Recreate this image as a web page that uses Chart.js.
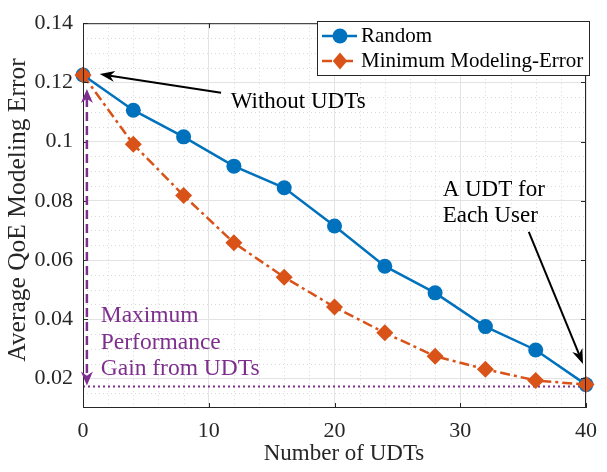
<!DOCTYPE html>
<html>
<head>
<title>QoE Modeling Error</title>
<script src="https://cdn.jsdelivr.net/npm/chart.js@4"></script>
<style>
  body { margin: 0; background: #fff; }
  canvas { display: block; }
</style>
</head>
<body>
<canvas id="qoeChart" width="607" height="472"></canvas>
<script>
// data
const numUDTs = [0, 4, 8, 12, 16, 20, 24, 28, 32, 36, 40];
const randomErr = [0.1225, 0.1106, 0.1016, 0.0917, 0.0844, 0.0715, 0.0579, 0.0489, 0.0375, 0.0296, 0.0179];
const minErr = [0.1225, 0.0991, 0.0818, 0.0658, 0.0542, 0.0441, 0.0354, 0.0275, 0.0231, 0.0193, 0.0179];
const gainLineX = [0, 40];
const gainLineY = [0.0173, 0.0173];
const xTicks = [0, 10, 20, 30, 40];
const yTicks = [0.02, 0.04, 0.06, 0.08, 0.1, 0.12, 0.14];

const BLUE = '#0072BD';
const ORANGE = '#D95319';
const PURPLE = '#7E2F8E';
const AXIS = '#262626';
const FONT = "'Liberation Serif', 'Times New Roman', serif";

function toPoints(xs, ys) {
    return xs.map((x, i) => ({ x: x, y: ys[i] }));
}

function arrowHead(ctx, x1, y1, x2, y2, len, half, color) {
    const a = Math.atan2(y2 - y1, x2 - x1);
    const ux = Math.cos(a), uy = Math.sin(a);
    const px = -uy, py = ux;
    ctx.fillStyle = color;
    ctx.beginPath();
    ctx.moveTo(x2, y2);
    ctx.lineTo(x2 - len * ux + half * px, y2 - len * uy + half * py);
    ctx.lineTo(x2 - 0.7 * len * ux, y2 - 0.7 * len * uy);
    ctx.lineTo(x2 - len * ux - half * px, y2 - len * uy - half * py);
    ctx.closePath();
    ctx.fill();
}

function arrow(ctx, x1, y1, x2, y2, color, width, dash, len, half) {
    const a = Math.atan2(y2 - y1, x2 - x1);
    ctx.save();
    ctx.strokeStyle = color;
    ctx.lineWidth = width;
    ctx.setLineDash(dash);
    ctx.beginPath();
    ctx.moveTo(x1, y1);
    ctx.lineTo(x2 - 0.7 * len * Math.cos(a), y2 - 0.7 * len * Math.sin(a));
    ctx.stroke();
    ctx.setLineDash([]);
    arrowHead(ctx, x1, y1, x2, y2, len, half, color);
    ctx.restore();
}

// minor dotted grid (MATLAB style)
const minorGrid = {
    id: 'minorGrid',
    beforeDatasetsDraw(chart) {
        const { ctx, chartArea: a, scales: { x, y } } = chart;
        ctx.save();
        ctx.strokeStyle = '#d9d9d9';
        ctx.lineWidth = 1;
        ctx.setLineDash([1, 3]);
        ctx.beginPath();
        for (let v = 2; v < 40; v += 2) {
            if (v % 10 === 0) continue;
            const px = Math.round(x.getPixelForValue(v)) + 0.5;
            ctx.moveTo(px, a.top); ctx.lineTo(px, a.bottom);
        }
        for (let k = 3; k < 28; k++) {
            if (k % 4 === 0) continue;
            const py = Math.round(y.getPixelForValue(k * 0.005)) + 0.5;
            ctx.moveTo(a.left, py); ctx.lineTo(a.right, py);
        }
        ctx.stroke();
        ctx.restore();
    }
};

// box, inward ticks, annotations, legend, axis titles
const decorations = {
    id: 'decorations',
    afterDraw(chart) {
        const { ctx, chartArea: a, scales: { x, y } } = chart;
        ctx.save();

        // axes box
        ctx.strokeStyle = AXIS;
        ctx.lineWidth = 1;
        ctx.strokeRect(a.left + 0.5, a.top + 0.5, a.right - a.left - 1, a.bottom - a.top - 1);
        ctx.beginPath();
        xTicks.forEach(v => {
            const px = Math.round(x.getPixelForValue(v)) + 0.5;
            ctx.moveTo(px, a.bottom); ctx.lineTo(px, a.bottom - 5);
            ctx.moveTo(px, a.top); ctx.lineTo(px, a.top + 5);
        });
        yTicks.forEach(v => {
            const py = Math.round(y.getPixelForValue(v)) + 0.5;
            ctx.moveTo(a.left, py); ctx.lineTo(a.left + 5, py);
            ctx.moveTo(a.right, py); ctx.lineTo(a.right - 5, py);
        });
        ctx.stroke();

        // axis titles
        ctx.fillStyle = AXIS;
        ctx.font = '23px ' + FONT;
        ctx.textAlign = 'center';
        ctx.textBaseline = 'middle';
        ctx.fillText('Number of UDTs', 344, 454);
        ctx.save();
        ctx.translate(18, 210);
        ctx.rotate(-Math.PI / 2);
        ctx.font = '25.5px ' + FONT;
        ctx.fillText('Average QoE Modeling Error', 0, 0);
        ctx.restore();

        // black arrows and notes
        arrow(ctx, x.getPixelForValue(10.98), y.getPixelForValue(0.1165),
              x.getPixelForValue(1.33), y.getPixelForValue(0.1228), '#000', 2, [], 15, 5.5);
        arrow(ctx, x.getPixelForValue(35.45), y.getPixelForValue(0.0695),
              x.getPixelForValue(39.76), y.getPixelForValue(0.0249), '#000', 2, [], 15, 5.5);
        ctx.fillStyle = '#000';
        ctx.font = '23px ' + FONT;
        ctx.textAlign = 'left';
        ctx.fillText('Without UDTs', x.getPixelForValue(11.75), y.getPixelForValue(0.1135));
        ctx.fillText('A UDT for', x.getPixelForValue(28.6), y.getPixelForValue(0.0838));
        ctx.fillText('Each User', x.getPixelForValue(28.6), y.getPixelForValue(0.0748));

        // purple two-headed gain arrow
        const gx = x.getPixelForValue(0.31);
        const gTop = y.getPixelForValue(0.1178);
        const gBot = y.getPixelForValue(0.0176);
        ctx.save();
        ctx.strokeStyle = PURPLE;
        ctx.lineWidth = 2.5;
        ctx.setLineDash([9, 5]);
        ctx.beginPath();
        ctx.moveTo(gx, gTop + 9);
        ctx.lineTo(gx, gBot - 9);
        ctx.stroke();
        ctx.restore();
        arrowHead(ctx, gx, gBot, gx, gTop, 14, 6, PURPLE);
        arrowHead(ctx, gx, gTop, gx, gBot, 14, 6, PURPLE);
        ctx.fillStyle = PURPLE;
        ctx.font = '23.5px ' + FONT;
        ctx.fillText('Maximum', x.getPixelForValue(1.41), 316);
        ctx.fillText('Performance', x.getPixelForValue(1.41), 343);
        ctx.fillText('Gain from UDTs', x.getPixelForValue(1.41), 369);

        // legend
        ctx.fillStyle = '#fff';
        ctx.fillRect(317, 21, 272, 54);
        ctx.strokeStyle = AXIS;
        ctx.lineWidth = 1;
        ctx.strokeRect(317.5, 21.5, 272, 54);
        const rows = [
            { label: 'Random', color: BLUE, dash: [], style: 'circle', r: 7.5, y: 36 },
            { label: 'Minimum Modeling-Error', color: ORANGE, dash: [10, 4, 3, 4], style: 'rectRot', r: 8.5, y: 61 }
        ];
        rows.forEach(row => {
            ctx.save();
            ctx.strokeStyle = row.color;
            ctx.lineWidth = 2.5;
            ctx.setLineDash(row.dash);
            ctx.beginPath();
            ctx.moveTo(322, row.y); ctx.lineTo(357, row.y);
            ctx.stroke();
            ctx.restore();
            ctx.fillStyle = row.color;
            ctx.beginPath();
            if (row.style === 'circle') {
                ctx.arc(340, row.y, row.r, 0, Math.PI * 2);
            } else {
                ctx.moveTo(340, row.y - row.r); ctx.lineTo(340 + row.r * 0.85, row.y);
                ctx.lineTo(340, row.y + row.r); ctx.lineTo(340 - row.r * 0.85, row.y);
                ctx.closePath();
            }
            ctx.fill();
            ctx.fillStyle = '#000';
            ctx.font = '21px ' + FONT;
            ctx.textAlign = 'left';
            ctx.textBaseline = 'middle';
            ctx.fillText(row.label, 361, row.y);
        });

        ctx.restore();
    }
};

const ctx = document.getElementById('qoeChart').getContext('2d');
const qoeChart = new Chart(ctx, {
    type: 'line',
    data: {
        datasets: [
            {
                label: 'Random',
                data: toPoints(numUDTs, randomErr),
                borderColor: BLUE,
                backgroundColor: BLUE,
                borderWidth: 2.5,
                pointStyle: 'circle',
                pointRadius: 7.5,
                pointBorderWidth: 0,
                order: 1,
                clip: false
            },
            {
                label: 'Minimum Modeling-Error',
                data: toPoints(numUDTs, minErr),
                borderColor: ORANGE,
                backgroundColor: ORANGE,
                borderWidth: 2.5,
                borderDash: [10, 4, 3, 4],
                pointStyle: 'rectRot',
                pointRadius: 8.5,
                pointBorderWidth: 0,
                order: 0,
                clip: false
            },
            {
                label: 'gain',
                data: toPoints(gainLineX, gainLineY),
                borderColor: PURPLE,
                borderWidth: 2,
                borderDash: [2, 3],
                pointRadius: 0,
                order: 2,
                clip: false
            }
        ]
    },
    options: {
        responsive: false,
        animation: false,
        layout: { padding: { top: 15, right: 14, left: 0, bottom: 0 } },
        plugins: {
            legend: { display: false },
            tooltip: { enabled: false }
        },
        scales: {
            x: {
                type: 'linear',
                min: 0,
                max: 40,
                afterFit: s => { s.height = 64; },
                afterBuildTicks: s => { s.ticks = xTicks.map(v => ({ value: v })); },
                grid: { color: '#e3e3e3', drawTicks: false },
                border: { display: false },
                ticks: {
                    padding: 10,
                    color: AXIS,
                    font: { family: FONT, size: 22 },
                    maxRotation: 0
                }
            },
            y: {
                min: 0.01,
                max: 0.14,
                afterFit: s => { s.width = 83; },
                afterBuildTicks: s => { s.ticks = yTicks.map(v => ({ value: v })); },
                grid: { color: '#e3e3e3', drawTicks: false },
                border: { display: false },
                ticks: {
                    padding: 10,
                    color: AXIS,
                    font: { family: FONT, size: 22 },
                    callback: v => String(Number(v.toFixed(2)))
                }
            }
        }
    },
    plugins: [minorGrid, decorations]
});
</script>
</body>
</html>
